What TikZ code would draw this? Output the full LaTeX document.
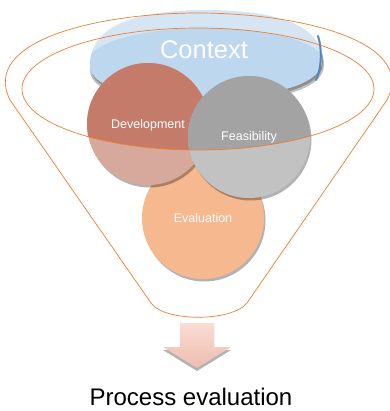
\documentclass[tikz,border=0pt]{standalone}
\usepackage{fontspec}
\setmainfont{Liberation Sans}
\usetikzlibrary{shadows}
\definecolor{funnel}{HTML}{ED7D31}
\definecolor{ctxmain}{HTML}{BDD7EE}
\definecolor{ctxlight}{HTML}{D5E5F4}
\definecolor{ctxdark}{HTML}{5585BE}
\definecolor{devtop}{HTML}{C47B6A}
\definecolor{devlow}{HTML}{D7A99C}
\definecolor{featop}{HTML}{A3A3A3}
\definecolor{fealow}{HTML}{C2C2C2}
\definecolor{evatop}{HTML}{F6B88E}
\definecolor{evalow}{HTML}{EFA374}
\definecolor{arrtop}{HTML}{FADCD3}
\definecolor{arrlow}{HTML}{EDBDAF}
\tikzset{
  funnelline/.style={draw=funnel, line width=0.7pt},
  circlabel/.style={text=white, font=\fontsize{12.5}{14}\selectfont},
  softshadow/.style={drop shadow={shadow xshift=1.5pt, shadow yshift=-2.5pt, fill=black, opacity=0.3}},
}
\begin{document}
\begin{tikzpicture}[x=1pt, y=-1pt]
\useasboundingbox (0,0) rectangle (389,411);
% Context disc
\def\ctxpath{(90,65) .. controls (90,20) and (150,10) .. (206,10) .. controls (262,10) and (322,20) .. (322,60) .. controls (322,88) and (262,97) .. (206,97) .. controls (150,97) and (90,92) .. cycle}
\fill[black, opacity=0.25] (90,70) .. controls (90,25) and (150,15) .. (207,15) .. controls (264,15) and (324,25) .. (324,65) .. controls (324,93) and (264,102) .. (207,102) .. controls (150,102) and (90,97) .. cycle;
\fill[black, opacity=0.25] (91,68) .. controls (91,23) and (150,13) .. (207,13) .. controls (263,13) and (323,23) .. (323,63) .. controls (323,91) and (263,100) .. (207,100) .. controls (150,100) and (91,95) .. cycle;
\fill[ctxlight] \ctxpath;
\begin{scope}
  \clip \ctxpath;
  \fill[ctxmain] (206,62) ellipse [x radius=118, y radius=34];
  \fill[ctxmain] (80,62) rectangle (330,100);
\end{scope}
\draw[ctxdark, line width=2pt, line cap=round] (318,36) .. controls (322,48) and (322,68) .. (316,80);
\node (context) at (204,50) {\textcolor{white}{\fontsize{25.5}{28}\selectfont Context}};
% circles
\node[circle, minimum size=122pt, inner sep=0pt, fill=evatop, softshadow] (eva) at (203,218) {};
\fill[devlow, softshadow] (148,124) circle [radius=61];
\begin{scope}
  \clip (198,89) ellipse [x radius=176, y radius=61];
  \fill[devtop] (148,124) circle [radius=61];
\end{scope}
\node[circle, minimum size=122pt, inner sep=0pt] (dev) at (148,124) {};
\fill[fealow, softshadow] (249,137) circle [radius=61];
\begin{scope}
  \clip (198,89) ellipse [x radius=176, y radius=61];
  \fill[featop] (249,137) circle [radius=61];
\end{scope}
\node[circle, minimum size=122pt, inner sep=0pt] (fea) at (249,137) {};
\node[circlabel] (devlabel) at (148,125) {Development};
\node[circlabel] (fealabel) at (249,137) {Feasibility};
\node[circlabel] (evalabel) at (203,218) {Evaluation};
% funnel
\draw[funnelline] (198,89) ellipse [x radius=176, y radius=61];
\draw[funnelline] (10,100) .. controls (-20,40) and (100,13) .. (198,13)
  .. controls (296,13) and (418,40) .. (387,100)
  -- (247,303) .. controls (232,322) and (164,322) .. (151,303) -- cycle;
% arrow
\path[top color=arrtop, bottom color=arrlow, drop shadow={shadow xshift=0pt, shadow yshift=-3pt, fill=black, opacity=0.3}]
  (180,323) -- (214,323) -- (214,347) -- (231,347) -- (197,368) -- (163,347) -- (180,347) -- cycle;
\node (result) at (191,397) {\fontsize{24}{28}\selectfont Process evaluation};
\end{tikzpicture}
\end{document}
